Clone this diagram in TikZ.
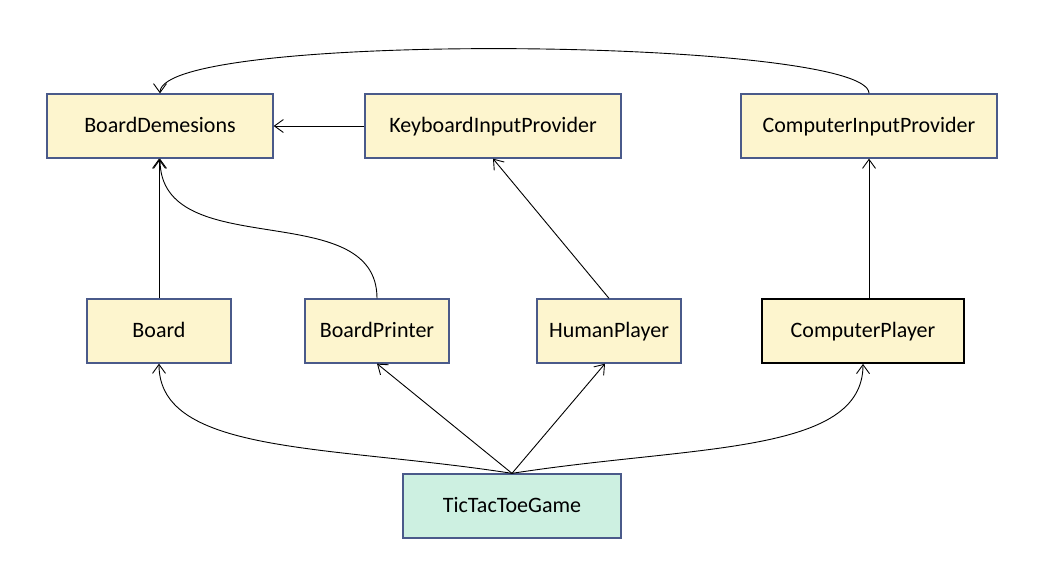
\documentclass[tikz,border=0pt]{standalone}
\usepackage{fontspec}
\setmainfont{Carlito}
\usetikzlibrary{arrows.meta}
\definecolor{boxfill}{HTML}{FDF5CE}
\definecolor{boxline}{HTML}{4A5A8A}
\definecolor{gamefill}{HTML}{CDF0E1}
\begin{document}
\begin{tikzpicture}[x=1pt,y=-1pt,
  cls/.style={draw=boxline,line width=1.3pt,fill=boxfill,minimum height=64pt,inner sep=0pt,text height=17pt,text depth=3.6pt,font=\fontsize{22}{26}\selectfont},
  link/.style={line width=0.9pt,-{Straight Barb[length=9pt,width=13pt,line width=0.9pt]}}]
\useasboundingbox (0,0) rectangle (1040,562);
\node[cls,minimum width=226pt] (bd) at (160,126) {BoardDemesions};
\node[cls,minimum width=256pt] (kip) at (493,126) {KeyboardInputProvider};
\node[cls,minimum width=256pt] (cip) at (869,126) {ComputerInputProvider};
\node[cls,minimum width=144pt] (b) at (159,331) {Board};
\node[cls,minimum width=144pt] (bp) at (377,331) {BoardPrinter};
\node[cls,minimum width=144pt] (hp) at (609,331) {HumanPlayer};
\node[cls,draw=black,line width=1.8pt,minimum width=202pt] (cp) at (863,331) {ComputerPlayer};
\node[cls,fill=gamefill,minimum width=218pt] (g) at (512,506) {TicTacToeGame};
% top connectors
\draw[link] (kip.west) -- (bd.east);
\draw[link] (cip.north) .. controls (869,38) and (160,30) .. (bd.north);
\draw[link] (b.north) -- (b.north |- bd.south);
\draw[link] (bp.north) .. controls (377,195) and (160,265) .. (bd.south);
\draw[link] (hp.north) -- (kip.south);
\draw[link] (cip.south |- cp.north) -- (cip.south);
% from game
\draw[link] (g.north) .. controls (330,445) and (159,455) .. (b.south);
\draw[link] (g.north) -- (bp.south);
\draw[link] (g.north) -- ([xshift=-4pt]hp.south);
\draw[link] (g.north) .. controls (694,445) and (863,455) .. (cp.south);
\end{tikzpicture}
\end{document}
